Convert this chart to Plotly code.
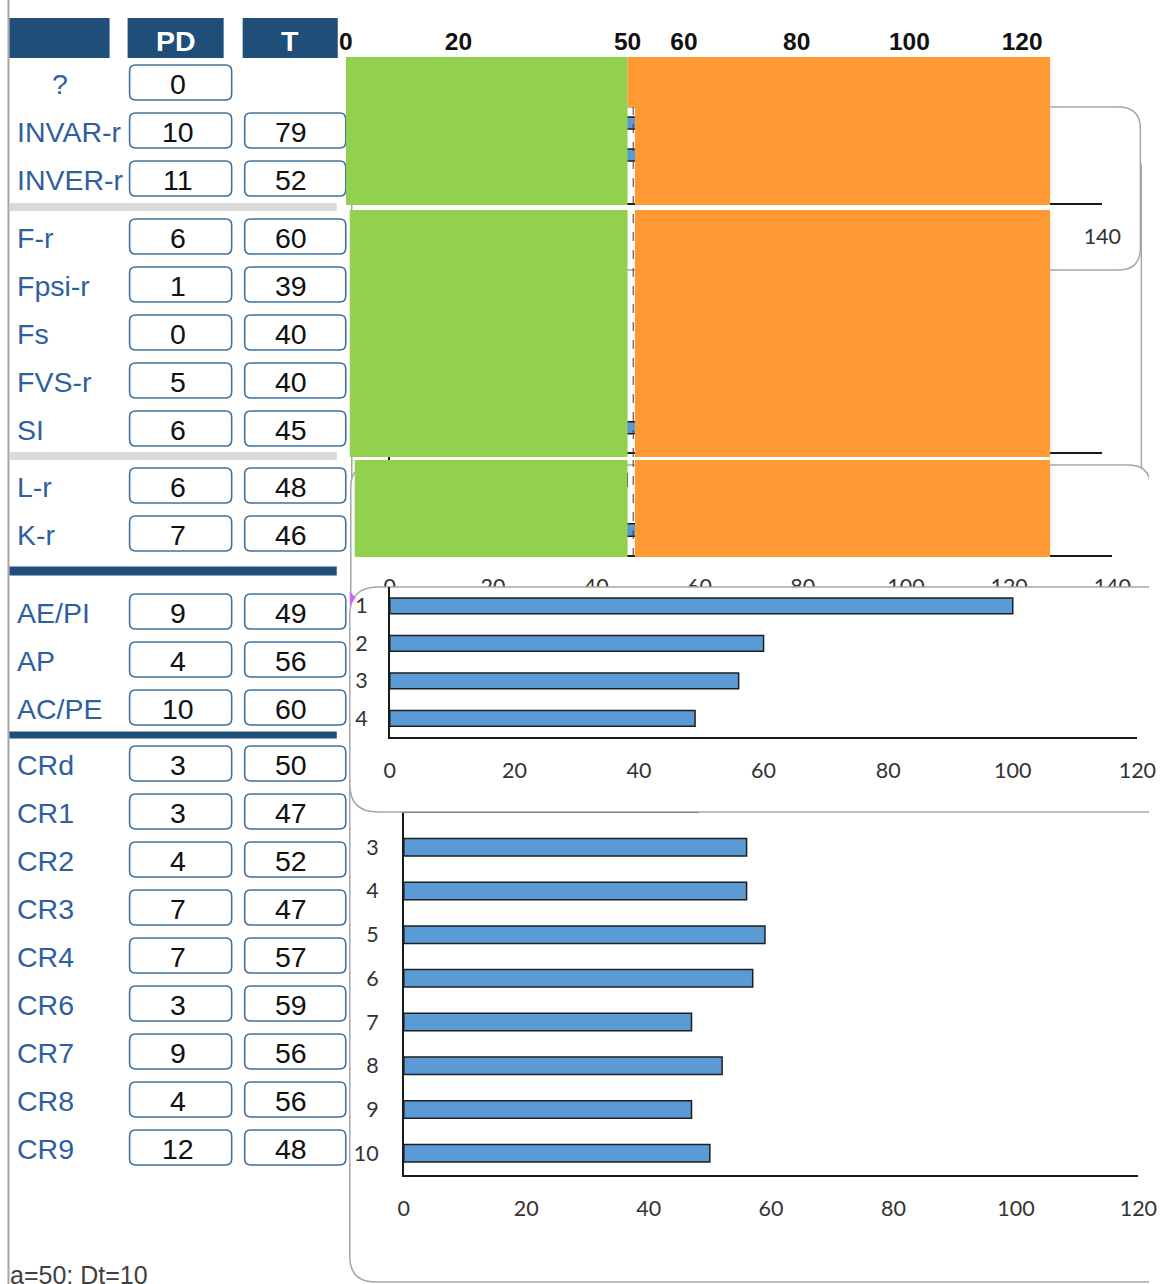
import plotly.graph_objects as go

W, H = 1168, 1284

# ---------------- score table ----------------
validity_labels = ["?", "INVAR-r", "INVER-r"]
validity_pd = [0, 10, 11]
validity_t = [None, 79, 52]

frequency_labels = ["F-r", "Fpsi-r", "Fs", "FVS-r", "SI"]
frequency_pd = [6, 1, 0, 5, 6]
frequency_t = [60, 39, 40, 40, 45]

control_labels = ["L-r", "K-r"]
control_pd = [6, 7]
control_t = [48, 46]

attitude_labels = ["AE/PI", "AP", "AC/PE"]
attitude_pd = [9, 4, 10]
attitude_t = [49, 56, 60]

clinical_labels = ["CRd", "CR1", "CR2", "CR3", "CR4", "CR6", "CR7", "CR8", "CR9"]
clinical_pd = [3, 3, 4, 7, 7, 3, 9, 4, 12]
clinical_t = [50, 47, 52, 47, 57, 59, 56, 56, 48]

header_labels = ["", "PD", "T"]
footer_text = "a=50; Dt=10"

# ---------------- chart values ----------------
attitude_chart_lead = 100     # first bar of the attitude chart
clinical_chart_lead = None    # first bar of the clinical chart (empty)
band_low = (0, 50)            # green zone
band_high = (51.3, 125)       # orange zone
band_cut = 51                 # dashed cut line
band_ticks = [0, 20, 50, 60, 80, 100, 120]
panel_ticks = [0, 20, 40, 60, 80, 100, 120, 140]
chart_ticks = [0, 20, 40, 60, 80, 100, 120]

# ---------------- styling ----------------
BLUE_DARK = "#1F4E79"
LABEL_BLUE = "#2F5F9E"
BOX_LINE = "#41719C"
SEP_GRAY = "#D9D9D9"
FRAME_GRAY = "#A6A6A6"
BAR_BLUE = "#5B9BD5"
GREEN = "#92D050"
ORANGE = "#FF9933"
TABLE_FONT = "Liberation Sans"
TABLE_SIZE = 28.5
TICK_FONT = dict(family="Lato", size=21.5, color="#333333")
AX_LINE = dict(showline=True, linecolor="#1A1A1A", linewidth=1.5)
CLEAR = "rgba(0,0,0,0)"

# sheet columns are laid out on a grid that starts slightly in from the
# page edge and is a touch narrower than the page
COL_OFFSET, COL_SCALE = 7.5, 0.977

shapes, annotations, traces = [], [], []
layout_axes = {}
counter = [0]


def col(x):
    """sheet column coordinate -> figure pixel"""
    return (x - COL_OFFSET) / COL_SCALE


def fx(v):
    return v / W


def fy(v):
    return 1 - v / H


def rounded_path(x0, y0, x1, y1, r, tx, ty):
    rx = r / COL_SCALE
    segs = [
        ("M", [(x0 + rx, y0)]), ("L", [(x1 - rx, y0)]), ("Q", [(x1, y0), (x1, y0 + r)]),
        ("L", [(x1, y1 - r)]), ("Q", [(x1, y1), (x1 - rx, y1)]), ("L", [(x0 + rx, y1)]),
        ("Q", [(x0, y1), (x0, y1 - r)]), ("L", [(x0, y0 + r)]), ("Q", [(x0, y0), (x0 + rx, y0)]),
    ]
    out = ""
    for cmd, pts in segs:
        out += cmd + " " + " ".join(f"{tx(a):.6f},{ty(b):.6f}" for a, b in pts) + " "
    return out + "Z"


def paper_rect(x0, y0, x1, y1, color):
    shapes.append(dict(type="rect", xref="paper", yref="paper", layer="below",
                       x0=fx(col(x0)), x1=fx(col(x1)), y0=fy(y1), y1=fy(y0),
                       fillcolor=color, line=dict(width=0)))


def paper_box(x0, y0, x1, y1, r=6):
    shapes.append(dict(type="path", xref="paper", yref="paper", layer="below",
                       path=rounded_path(col(x0), y0, col(x1), y1, r, fx, fy),
                       fillcolor="white", line=dict(color=BOX_LINE, width=1.6)))


def paper_line(x0, y0, x1, y1, color, width):
    shapes.append(dict(type="line", xref="paper", yref="paper", layer="below",
                       x0=fx(max(0.5, col(x0))), x1=fx(max(0.5, col(x1))), y0=fy(y0), y1=fy(y1),
                       line=dict(color=color, width=width)))


def text(x, y, s, size, color, anchor="center", bold=False, family=TABLE_FONT):
    annotations.append(dict(x=fx(col(x)), y=fy(y), xref="paper", yref="paper",
                            text=f"<b>{s}</b>" if bold else s, showarrow=False,
                            xanchor=anchor, yanchor="middle",
                            font=dict(family=family, size=size, color=color)))


def subplot(x0, y0, x1, y1, xkw, ykw, raw=False):
    counter[0] += 1
    k = counter[0]
    sfx = "" if k == 1 else str(k)
    px0, px1 = (x0, x1) if raw else (col(x0), col(x1))
    xa = dict(domain=[max(0.0, fx(px0)), min(1.0, fx(px1))], anchor="y" + sfx,
              showgrid=False, zeroline=False, fixedrange=True)
    ya = dict(domain=[max(0.0, fy(y1)), min(1.0, fy(y0))], anchor="x" + sfx,
              showgrid=False, zeroline=False, fixedrange=True)
    xa.update(xkw)
    ya.update(ykw)
    layout_axes["xaxis" + sfx] = xa
    layout_axes["yaxis" + sfx] = ya
    return "x" + sfx, "y" + sfx


def frame(x0, y0, x1, y1, r):
    # white rounded chart area, drawn in its own layer so it hides what lies beneath
    pad = 2
    lx0, lx1 = col(x0), col(x1)
    dx0, dx1 = max(0, lx0 - pad), min(W, lx1 + pad)
    dy0, dy1 = max(0, y0 - pad), min(H, y1 + pad)
    xr, yr = subplot(dx0, dy0, dx1, dy1,
                     dict(range=[dx0, dx1], visible=False),
                     dict(range=[dy1, dy0], visible=False), raw=True)
    traces.append(go.Scatter(x=[None], y=[None], xaxis=xr, yaxis=yr,
                             showlegend=False, hoverinfo="skip"))
    shapes.append(dict(type="path", xref=xr, yref=yr, layer="below",
                       path=rounded_path(lx0, y0, lx1, y1, r, lambda v: v, lambda v: v),
                       fillcolor="white", line=dict(color=FRAME_GRAY, width=1.5)))


def hbar(xr, yr, cats, vals, width):
    traces.append(go.Bar(y=cats, x=vals, orientation="h", xaxis=xr, yaxis=yr, width=width,
                         marker=dict(color=BAR_BLUE, line=dict(color="#1F1F1F", width=1.5)),
                         showlegend=False, hoverinfo="skip"))


def value_axis(rng, ticks, ticklen, show=True):
    d = dict(range=rng, **AX_LINE)
    if show:
        d.update(tickmode="array", tickvals=ticks, ticks="outside", ticklen=ticklen,
                 tickcolor=CLEAR, tickfont=TICK_FONT)
    else:
        d.update(showticklabels=False, ticks="")
    return d


def cat_axis(cats=None, ticklen=0, show=False, reverse=False):
    d = dict(type="category", **AX_LINE)
    if cats is not None:
        d.update(categoryorder="array", categoryarray=cats)
    if reverse:
        d.update(autorange="reversed")
    if show:
        d.update(ticks="outside", ticklen=ticklen, tickcolor=CLEAR, tickfont=TICK_FONT)
    else:
        d.update(showticklabels=False, ticks="")
    return d


# ================= left score table =================
paper_line(9, 0, 9, H, "#A6A6A6", 2)

header_x = [(10, 110), (128, 224), (243, 338)]
for (x0, x1), lab in zip(header_x, header_labels):
    paper_rect(x0, 18, x1, 58, BLUE_DARK)
    if lab:
        text((x0 + x1) / 2, 41, lab, TABLE_SIZE, "white", bold=True)

groups = [
    (validity_labels, validity_pd, validity_t),
    (frequency_labels, frequency_pd, frequency_t),
    (control_labels, control_pd, control_t),
    (attitude_labels, attitude_pd, attitude_t),
    (clinical_labels, clinical_pd, clinical_t),
]
group_first_row = [84, 238, 487, 613, 765]
ROW = 48
for (labels, pds, ts), y_start in zip(groups, group_first_row):
    for i, (lab, pdv, tv) in enumerate(zip(labels, pds, ts)):
        yc = y_start + i * ROW
        if lab == "?":
            text(60, yc, lab, TABLE_SIZE, LABEL_BLUE)
        else:
            text(15, yc, lab, TABLE_SIZE, LABEL_BLUE, anchor="left")
        paper_box(130, yc - 19, 232, yc + 16)
        text(178, yc, str(pdv), TABLE_SIZE, "#111111")
        if tv is not None:
            paper_box(245, yc - 19, 346, yc + 16)
            text(291, yc, str(tv), TABLE_SIZE, "#111111")

for yc, h, c in [(207, 8, SEP_GRAY), (456, 8, SEP_GRAY), (571, 9, BLUE_DARK), (735, 7, BLUE_DARK)]:
    paper_rect(10, yc - h / 2, 337, yc + h / 2, c)

text(8, 1275, footer_text, 25, "#404040", anchor="left")

# ================= score panels (partly hidden by the zone bands) =================
# frequency panel
frame(352, 150, 1141, 520, 20)
xr, yr = subplot(390, 210, 1102, 452, value_axis([0, 140], panel_ticks, 0, show=False), cat_axis())
hbar(xr, yr, frequency_labels, frequency_t, 0.25)

# validity panel
frame(352, 107, 1140, 270, 22)
xr, yr = subplot(390, 107, 1102, 203, value_axis([0, 140], panel_ticks, 13), cat_axis())
hbar(xr, yr, validity_labels, validity_t, 0.37)

# control panel
frame(351, 465, 1150, 700, 22)
xr, yr = subplot(390, 455, 1112, 555, value_axis([0, 140], panel_ticks, 11), cat_axis())
hbar(xr, yr, control_labels, control_t, 0.25)

# ================= green / orange zone bands =================
BAND_X0, BAND_X1 = 346, 1050
scale = (BAND_X1 - BAND_X0) / (band_high[1] - band_low[0])
band_rows = [(346, 57, 107, True, False), (346, 107, 205, False, True),
             (350, 210, 457, False, True), (355, 460, 557, False, True)]
for x0, y0, y1, top_labels, with_gap in band_rows:
    rng = [band_low[0] + (x0 - BAND_X0) / scale, band_high[1]]
    xkw = dict(range=rng)
    if top_labels:
        xkw.update(side="top", tickmode="array", tickvals=band_ticks, ticks="outside",
                   ticklen=3, tickcolor=CLEAR, showline=False, ticklabelstandoff=-7,
                   tickfont=dict(family=TABLE_FONT, size=24.5, color="#111111"),
                   ticktext=[f"<b>{v}</b>" for v in band_ticks])
    else:
        xkw.update(visible=False)
    xr, yr = subplot(x0, y0, BAND_X1, y1, xkw, dict(range=[-0.5, 0.5], visible=False))
    hi_start = band_high[0] if with_gap else band_low[1]
    traces.append(go.Bar(y=[0], x=[band_low[1] - band_low[0]], base=[band_low[0]], width=1,
                         orientation="h", xaxis=xr, yaxis=yr,
                         marker=dict(color=GREEN, line=dict(width=0)),
                         showlegend=False, hoverinfo="skip"))
    traces.append(go.Bar(y=[0], x=[band_high[1] - hi_start], base=[hi_start], width=1,
                         orientation="h", xaxis=xr, yaxis=yr,
                         marker=dict(color=ORANGE, line=dict(width=0)),
                         showlegend=False, hoverinfo="skip"))
    if with_gap:
        traces.append(go.Scatter(x=[band_cut, band_cut], y=[-0.5, 0.5], mode="lines",
                                 xaxis=xr, yaxis=yr,
                                 line=dict(color="#3A3A3A", width=1, dash="dash"),
                                 showlegend=False, hoverinfo="skip"))

# ================= clinical chart =================
clinical_cats = [str(i) for i in range(1, len(clinical_t) + 2)]
clinical_vals = [clinical_chart_lead] + clinical_t[::-1]
frame(350, 700, 1200, 1282, 26)
xr, yr = subplot(404, 738, 1138, 1175, value_axis([0, 120], chart_ticks, 13),
                 cat_axis(clinical_cats, ticklen=19, show=True, reverse=True))
hbar(xr, yr, clinical_cats, clinical_vals, 0.4)

# ================= attitude chart =================
attitude_cats = [str(i) for i in range(1, len(attitude_t) + 2)]
attitude_vals = [attitude_chart_lead] + attitude_t[::-1]
frame(350, 587, 1178, 812, 28)
xr, yr = subplot(390, 587, 1137, 737, value_axis([0, 120], chart_ticks, 13),
                 cat_axis(attitude_cats, ticklen=16, show=True, reverse=True))
hbar(xr, yr, attitude_cats, attitude_vals, 0.42)

# small selection handle on the attitude chart
hx0, hx1 = fx(col(350)), fx(col(356))
shapes.append(dict(type="path", xref="paper", yref="paper", layer="above",
                   path=f"M {hx0},{fy(591)} L {hx1},{fy(598)} L {hx0},{fy(605)} Z",
                   fillcolor="#CC66FF", line=dict(width=0)))

fig = go.Figure(data=traces)
fig.update_layout(
    width=W, height=H, autosize=False,
    margin=dict(l=0, r=0, t=0, b=0, pad=0),
    paper_bgcolor="white", plot_bgcolor=CLEAR,
    barmode="overlay", showlegend=False,
    shapes=shapes, annotations=annotations,
    **layout_axes,
)
fig.write_html("out.html")
